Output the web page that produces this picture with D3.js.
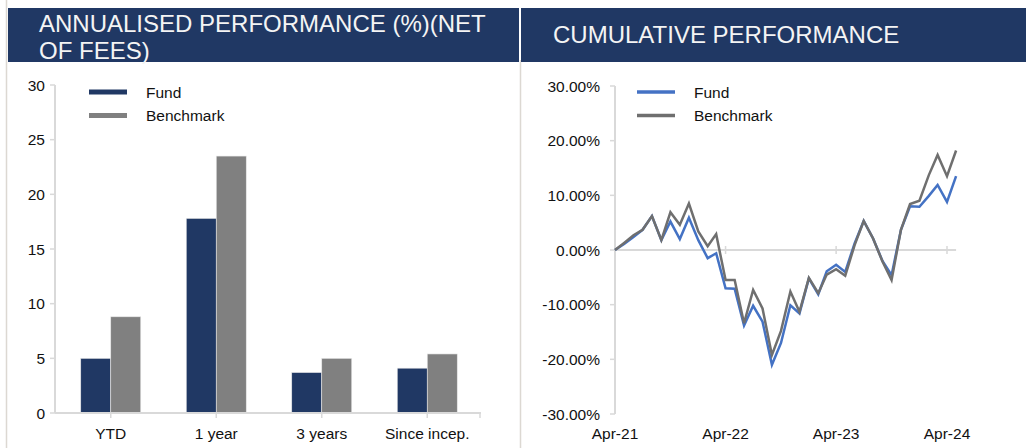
<!DOCTYPE html>
<html>
<head>
<meta charset="utf-8">
<script src="https://cdn.jsdelivr.net/npm/d3@7"></script>
<style>
  body { margin: 0; background: #fff; }
  svg { display: block; font-family: "Liberation Sans", Arial, sans-serif; }
</style>
</head>
<body>
<div id="vis"></div>
<script>
// annualised performance (bar chart)
var periods = ['YTD', '1 year', '3 years', 'Since incep.'];
var fundAnnual = [5.0, 17.8, 3.7, 4.1];
var benchAnnual = [8.8, 23.5, 5.0, 5.4];
var barTicks = [0, 5, 10, 15, 20, 25, 30];

// cumulative performance, monthly from Apr-21 to May-24 (%)
var startMonth = new Date(Date.UTC(2021, 3, 1));
var fundCum = [0, 1.1, 2.4, 3.7, 6.2, 1.8, 5.2, 2.0, 5.9, 1.8, -1.5, -0.6,
	-7.0, -7.1, -13.8, -10.2, -13.1, -21.0, -17.0, -10.1, -11.6, -5.2, -8.1, -3.9,
	-2.7, -4.0, 1.2, 5.3, 2.1, -2.0, -4.6, 3.7, 8.0, 7.9, 9.9, 11.9, 8.8, 13.5];
var benchCum = [0, 1.3, 2.7, 3.7, 6.2, 1.8, 6.9, 4.6, 8.5, 3.4, 0.7, 2.9,
	-5.5, -5.5, -13.4, -7.3, -10.7, -19.2, -14.8, -7.6, -11.3, -5.1, -7.9, -4.5,
	-3.5, -4.7, 0.9, 5.3, 2.1, -2.1, -5.5, 3.7, 8.4, 9.0, 13.7, 17.4, 13.5, 18.2];
var lineTicks = [-30, -20, -10, 0, 10, 20, 30];
var yearTicks = ['Apr-21', 'Apr-22', 'Apr-23', 'Apr-24'];

var navy = '#203864',
	grey = '#808080',
	axisGrey = '#d9d9d9',
	fundBlue = '#4472c4',
	benchGrey = '#6f6f6f';

var width = 1026,
	height = 448,
	fs = '15.5px';

var svg = d3.select('#vis').append('svg').attr('width', width).attr('height', height);

// panel borders
svg.append('line').attr('x1', 6.5).attr('x2', 6.5).attr('y1', 0).attr('y2', height)
	.style('stroke', '#dcd8d2').style('stroke-width', 1.5);
svg.append('line').attr('x1', 520.5).attr('x2', 520.5).attr('y1', 60).attr('y2', height)
	.style('stroke', '#dcd8d2').style('stroke-width', 1.5);

// headers
svg.append('rect').attr('x', 8).attr('y', 8).attr('width', 511).attr('height', 54).attr('fill', navy);
svg.append('rect').attr('x', 521).attr('y', 8).attr('width', 505).attr('height', 54).attr('fill', navy);

var h1 = svg.append('text').attr('x', 39).attr('y', 32)
	.attr('fill', '#f4f4f4').style('font-size', '24px');
h1.append('tspan').attr('x', 39).attr('y', 32).text('ANNUALISED PERFORMANCE (%)(NET');
h1.append('tspan').attr('x', 39).attr('y', 59).text('OF FEES)');

svg.append('text').attr('x', 553).attr('y', 43)
	.attr('fill', '#f4f4f4').style('font-size', '24px')
	.text('CUMULATIVE PERFORMANCE');

/* ---------- bar chart ---------- */
var barG = svg.append('g');

var y = d3.scaleLinear().domain([0, 30]).range([413, 85]);
var x0 = d3.scaleBand().domain(periods).range([58, 480]);
var x1 = d3.scaleBand().domain(['Fund', 'Benchmark']).range([0, 60]);

var barData = periods.map(function(p, i) {
	return { period: p, values: [
		{ key: 'Fund', value: fundAnnual[i], color: navy },
		{ key: 'Benchmark', value: benchAnnual[i], color: grey }
	] };
});

barG.selectAll('.group')
	.data(barData)
	.enter()
	.append('g')
	.attr('transform', function(d) {
		return 'translate(' + (x0(d.period) + (x0.bandwidth() - 60) / 2) + ',0)';
	})
	.selectAll('rect')
	.data(function(d) { return d.values; })
	.enter()
	.append('rect')
	.attr('x', function(d) { return x1(d.key); })
	.attr('width', x1.bandwidth())
	.attr('y', function(d) { return y(d.value); })
	.attr('height', function(d) { return y(0) - y(d.value); })
	.attr('fill', function(d) { return d.color; })
	.style('stroke', '#e8e8e8')
	.style('stroke-width', 0.6);

// y axis
barG.append('line').attr('x1', 55).attr('x2', 55).attr('y1', y(30)).attr('y2', y(0))
	.style('stroke', axisGrey).style('stroke-width', 2);
barG.selectAll('.ytick').data(barTicks).enter().append('line')
	.attr('x1', 50).attr('x2', 55)
	.attr('y1', function(d) { return y(d); }).attr('y2', function(d) { return y(d); })
	.style('stroke', axisGrey).style('stroke-width', 1.5);
barG.selectAll('.ylab').data(barTicks).enter().append('text')
	.attr('x', 45).attr('y', function(d) { return y(d) + 5.5; })
	.attr('text-anchor', 'end').style('font-size', fs).attr('fill', '#111')
	.text(function(d) { return d; });

// x axis
barG.append('line').attr('x1', 55).attr('x2', 481).attr('y1', y(0)).attr('y2', y(0))
	.style('stroke', axisGrey).style('stroke-width', 2);
barG.selectAll('.xtick').data(periods).enter().append('line')
	.attr('x1', function(d) { return x0(d) + x0.bandwidth() / 2; })
	.attr('x2', function(d) { return x0(d) + x0.bandwidth() / 2; })
	.attr('y1', y(0)).attr('y2', y(0) + 5)
	.style('stroke', axisGrey).style('stroke-width', 1.5);
barG.append('line').attr('x1', 480).attr('x2', 480).attr('y1', y(0)).attr('y2', y(0) + 5)
	.style('stroke', axisGrey).style('stroke-width', 1.5);
barG.selectAll('.xlab').data(periods).enter().append('text')
	.attr('x', function(d) { return x0(d) + x0.bandwidth() / 2; })
	.attr('y', 439).attr('text-anchor', 'middle')
	.style('font-size', fs).attr('fill', '#111')
	.text(function(d) { return d; });

// legend
var barLegend = [{ key: 'Fund', color: navy }, { key: 'Benchmark', color: grey }];
barLegend.forEach(function(d, i) {
	var ly = 92 + i * 23.5;
	barG.append('line').attr('x1', 89).attr('x2', 127).attr('y1', ly).attr('y2', ly)
		.style('stroke', d.color).style('stroke-width', 5);
	barG.append('text').attr('x', 146).attr('y', ly + 5.5)
		.style('font-size', fs).attr('fill', '#111').text(d.key);
});

/* ---------- line chart ---------- */
var lineG = svg.append('g');

var months = fundCum.map(function(d, i) {
	return d3.utcMonth.offset(startMonth, i);
});

var xt = d3.scaleUtc()
	.domain([new Date(Date.UTC(2021, 3, 1)), new Date(Date.UTC(2024, 3, 1))])
	.range([615, 947]);
var yl = d3.scaleLinear().domain([-30, 30]).range([414, 86]);

// y axis
lineG.append('line').attr('x1', 615).attr('x2', 615).attr('y1', yl(30)).attr('y2', yl(-30))
	.style('stroke', axisGrey).style('stroke-width', 2);
lineG.selectAll('.ytick').data(lineTicks).enter().append('line')
	.attr('x1', 610).attr('x2', 615)
	.attr('y1', function(d) { return yl(d); }).attr('y2', function(d) { return yl(d); })
	.style('stroke', axisGrey).style('stroke-width', 1.5);
lineG.selectAll('.ylab').data(lineTicks).enter().append('text')
	.attr('x', 600).attr('y', function(d) { return yl(d) + 5.5; })
	.attr('text-anchor', 'end').style('font-size', fs).attr('fill', '#111')
	.text(function(d) { return d.toFixed(2) + '%'; });

// x axis at 0%
lineG.append('line').attr('x1', 615).attr('x2', xt(months[months.length - 1]))
	.attr('y1', yl(0)).attr('y2', yl(0))
	.style('stroke', axisGrey).style('stroke-width', 2);
var yearDates = yearTicks.map(function(d, i) { return d3.utcYear.offset(startMonth, i); });
lineG.selectAll('.xtick').data(yearDates).enter().append('line')
	.attr('x1', function(d) { return xt(d); }).attr('x2', function(d) { return xt(d); })
	.attr('y1', yl(0) - 4).attr('y2', yl(0) + 4)
	.style('stroke', axisGrey).style('stroke-width', 1.5);
lineG.selectAll('.xlab').data(yearDates).enter().append('text')
	.attr('x', function(d) { return xt(d); }).attr('y', 439)
	.attr('text-anchor', 'middle').style('font-size', fs).attr('fill', '#111')
	.text(function(d, i) { return yearTicks[i]; });

var line = d3.line()
	.x(function(d, i) { return xt(months[i]); })
	.y(function(d) { return yl(d); });

lineG.append('path').datum(fundCum).attr('d', line)
	.attr('fill', 'none').style('stroke', fundBlue).style('stroke-width', 2.5)
	.style('stroke-linejoin', 'miter');
lineG.append('path').datum(benchCum).attr('d', line)
	.attr('fill', 'none').style('stroke', benchGrey).style('stroke-width', 2.5)
	.style('stroke-linejoin', 'miter');

// legend
var lineLegend = [{ key: 'Fund', color: fundBlue }, { key: 'Benchmark', color: benchGrey }];
lineLegend.forEach(function(d, i) {
	var ly = 92 + i * 23.5;
	lineG.append('line').attr('x1', 637).attr('x2', 675).attr('y1', ly).attr('y2', ly)
		.style('stroke', d.color).style('stroke-width', 3.5);
	lineG.append('text').attr('x', 694).attr('y', ly + 5.5)
		.style('font-size', fs).attr('fill', '#111').text(d.key);
});
</script>
</body>
</html>
